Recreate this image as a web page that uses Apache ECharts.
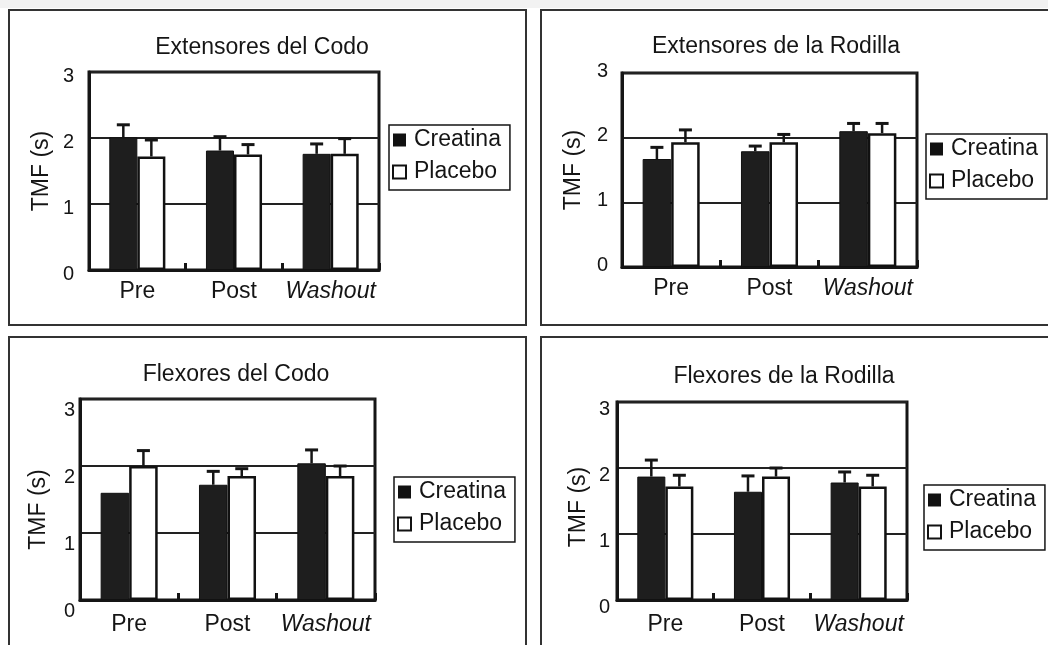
<!DOCTYPE html>
<html><head><meta charset="utf-8">
<script src="https://cdn.jsdelivr.net/npm/echarts@6/dist/echarts.min.js"></script>
<style>html,body{margin:0;padding:0;background:#fff;} #c{width:1048px;height:645px;}</style>
</head><body><div id="c"></div>
<script>
// ---------- DATA ----------
const categories = ['Pre', 'Post', 'Washout'];
const legendNames = ['Creatina', 'Placebo'];
const yAxisName = 'TMF (s)';
const yTickMin = 0, yTickMax = 3, yTickStep = 1;

const titleExtCodo = 'Extensores del Codo';
const extCodoCreatina = [2.01, 1.81, 1.76];
const extCodoCreatinaUpper = [2.20, 2.02, 1.91];
const extCodoPlacebo = [1.72, 1.75, 1.76];
const extCodoPlaceboUpper = [1.97, 1.90, 1.99];

const titleExtRodilla = 'Extensores de la Rodilla';
const extRodillaCreatina = [1.67, 1.79, 2.10];
const extRodillaCreatinaUpper = [1.85, 1.87, 2.22];
const extRodillaPlacebo = [1.93, 1.93, 2.07];
const extRodillaPlaceboUpper = [2.12, 2.05, 2.22];

const titleFlexCodo = 'Flexores del Codo';
const flexCodoCreatina = [1.60, 1.72, 2.04];
const flexCodoCreatinaUpper = [null, 1.92, 2.24];
const flexCodoPlacebo = [2.00, 1.85, 1.85];
const flexCodoPlaceboUpper = [2.23, 1.96, 2.00];

const titleFlexRodilla = 'Flexores de la Rodilla';
const flexRodillaCreatina = [1.87, 1.64, 1.78];
const flexRodillaCreatinaUpper = [2.12, 1.88, 1.94];
const flexRodillaPlacebo = [1.72, 1.87, 1.72];
const flexRodillaPlaceboUpper = [1.89, 2.00, 1.89];

const panels = [
  { title: titleExtCodo, c: extCodoCreatina, cu: extCodoCreatinaUpper, p: extCodoPlacebo, pu: extCodoPlaceboUpper },
  { title: titleExtRodilla, c: extRodillaCreatina, cu: extRodillaCreatinaUpper, p: extRodillaPlacebo, pu: extRodillaPlaceboUpper },
  { title: titleFlexCodo, c: flexCodoCreatina, cu: flexCodoCreatinaUpper, p: flexCodoPlacebo, pu: flexCodoPlaceboUpper },
  { title: titleFlexRodilla, c: flexRodillaCreatina, cu: flexRodillaCreatinaUpper, p: flexRodillaPlacebo, pu: flexRodillaPlaceboUpper }
];

// ---------- LAYOUT / STYLE ----------
const layouts = [
  { grid: {left: 89, top: 72, width: 290, height: 198}, tx: 262, ty: 36, lg: {left: 389, top: 125}, xm: 10, ym: 15, ys: 4, ng: 36, ns: 0, box: [9, 10, 517, 315] },
  { grid: {left: 622, top: 73, width: 295, height: 194}, tx: 776, ty: 35, lg: {left: 926, top: 134}, xm: 10, ym: 14, ys: -2, ng: 37, ns: 0, box: [541, 10, 530, 315] },
  { grid: {left: 80, top: 399, width: 295, height: 201}, tx: 236, ty: 363, lg: {left: 394, top: 477}, xm: 13, ym: 5, ys: 11, ng: 30, ns: 10, box: [9, 337, 517, 330] },
  { grid: {left: 617, top: 402, width: 290, height: 198}, tx: 784, ty: 365, lg: {left: 924, top: 485}, xm: 13, ym: 7, ys: 7, ng: 27, ns: 6, box: [541, 337, 530, 330] }
];
const FONT = '"Liberation Sans", Arial, Helvetica, sans-serif';
const INK = '#151515';
const BAR_FRAC = 0.29;

function renderErr(params, api) {
  const idx = api.value(0), upper = api.value(1), side = api.value(2), mean = api.value(3);
  const band = api.size([1, 0])[0];
  const bw = band * BAR_FRAC;
  const cx = api.coord([idx, 0])[0] + (side === 0 ? -bw / 2 : bw / 2);
  const yTop = api.coord([idx, upper])[1];
  const yBase = api.coord([idx, mean])[1];
  return { type: 'group', children: [
    { type: 'line', shape: {x1: cx, y1: yBase, x2: cx, y2: yTop}, style: {stroke: INK, lineWidth: 2.5} },
    { type: 'line', shape: {x1: cx - 6.5, y1: yTop, x2: cx + 6.5, y2: yTop}, style: {stroke: INK, lineWidth: 3} }
  ]};
}

const option = {
  backgroundColor: '#fff',
  animation: false,
  title: [], grid: [], xAxis: [], yAxis: [], legend: [], series: [],
  graphic: [{ type: 'rect', silent: true, z: -10, shape: {x: 0, y: 0, width: 1048, height: 8}, style: {fill: '#f2f2f2'} }]
};

panels.forEach((pn, i) => {
  const L = layouts[i];
  option.graphic.push({ type: 'rect', silent: true, z: -5,
    shape: {x: L.box[0], y: L.box[1], width: L.box[2], height: L.box[3]},
    style: {fill: 'none', stroke: '#333', lineWidth: 2} });
  option.title.push({ text: pn.title, left: L.tx, top: L.ty, textAlign: 'center', padding: 0,
    textStyle: {fontFamily: FONT, fontSize: 23, fontWeight: 'normal', color: INK} });
  option.grid.push(Object.assign({ show: true, borderColor: INK, borderWidth: 3, backgroundColor: 'transparent' }, L.grid));
  option.xAxis.push({ type: 'category', gridIndex: i, data: categories,
    axisLine: {show: true, lineStyle: {color: INK, width: 3}},
    axisTick: {show: true, inside: true, length: 7, lineStyle: {color: INK, width: 3}},
    axisLabel: { interval: 0, hideOverlap: false, margin: L.xm, color: INK, fontFamily: FONT, fontSize: 23,
      formatter: v => v === 'Washout' ? '{i|' + v + '}' : v,
      rich: { i: {fontStyle: 'italic', fontFamily: FONT, fontSize: 23, color: INK} } } });
  const pad = L.ys >= 0 ? [2 * L.ys, 0, 0, 0] : [0, 0, -2 * L.ys, 0];
  const npad = [0, 2 * L.ns, 0, 0];
  option.yAxis.push({ type: 'value', gridIndex: i, min: yTickMin, max: yTickMax, interval: yTickStep,
    name: yAxisName, nameLocation: 'middle', nameRotate: 90, nameGap: L.ng,
    nameTextStyle: {fontFamily: FONT, fontSize: 23, color: INK, padding: npad},
    axisLine: {show: true, lineStyle: {color: INK, width: 3}},
    axisTick: {show: false},
    splitLine: {show: true, lineStyle: {color: '#222', width: 2}},
    axisLabel: {margin: L.ym, color: INK, fontFamily: FONT, fontSize: 20,
      formatter: v => '{a|' + v + '}',
      rich: { a: {fontFamily: FONT, fontSize: 20, color: INK, padding: pad} } } });
  option.legend.push({ orient: 'vertical', left: L.lg.left, top: L.lg.top,
    padding: [3, 9, 6, 3], itemGap: 8, itemWidth: 13, itemHeight: 13, icon: 'rect',
    borderColor: INK, borderWidth: 1.5, backgroundColor: '#fff',
    textStyle: {fontFamily: FONT, fontSize: 23, color: INK, lineHeight: 24, padding: [0, 0, 0, 3]},
    data: [
      {name: legendNames[0], itemStyle: {color: '#111', borderColor: '#111', borderWidth: 0}},
      {name: legendNames[1], itemStyle: {color: '#fff', borderColor: '#111', borderWidth: 2}}
    ] });
  option.series.push({ name: legendNames[0], type: 'bar', xAxisIndex: i, yAxisIndex: i,
    data: pn.c, barWidth: (BAR_FRAC * 100) + '%', barGap: '0%', z: 3,
    itemStyle: {color: '#1e1e1e', borderColor: '#111', borderWidth: 1} });
  option.series.push({ name: legendNames[1], type: 'bar', xAxisIndex: i, yAxisIndex: i,
    data: pn.p, barWidth: (BAR_FRAC * 100) + '%', barGap: '0%', z: 3,
    itemStyle: {color: '#fff', borderColor: '#111', borderWidth: 2.5} });
  const errData = [];
  categories.forEach((c, k) => {
    if (pn.cu[k] != null) errData.push([k, pn.cu[k], 0, pn.c[k]]);
    if (pn.pu[k] != null) errData.push([k, pn.pu[k], 1, pn.p[k]]);
  });
  option.series.push({ name: 'err' + i, type: 'custom', xAxisIndex: i, yAxisIndex: i, z: 5,
    renderItem: renderErr, encode: {x: 0, y: 1}, data: errData, silent: true });
});

const chart = echarts.init(document.getElementById('c'), null, {renderer: 'canvas'});
chart.setOption(option);
</script>
</body></html>
